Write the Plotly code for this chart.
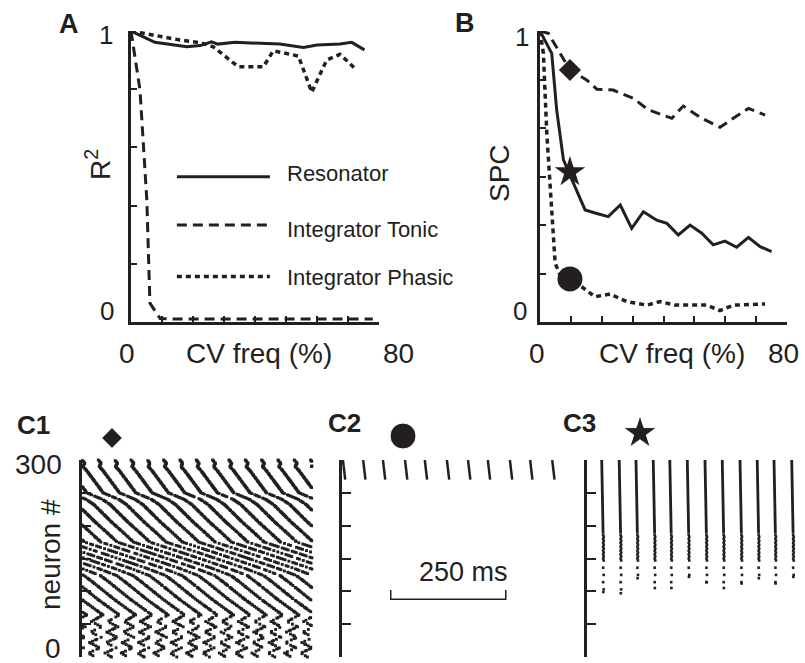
import numpy as np
import plotly.graph_objects as go

W, H = 805, 663
FONT = "Liberation Sans, Arial, Helvetica, sans-serif"

# ---------------- Panel A : R^2 vs CV freq ----------------
a_res_x = [0, 7.7, 18, 22.3, 26, 28, 33.5, 48, 55.6, 60, 67.4, 71.2, 75.3]
a_res_y = [1, 0.961, 0.946, 0.95, 0.963, 0.955, 0.961, 0.955, 0.943, 0.952, 0.955, 0.961, 0.935]
a_ton_x = [0, 2.9, 5.1, 6.1, 9.4, 15, 25, 35, 45, 55, 65, 78]
a_ton_y = [1, 0.797, 0.42, 0.065, 0.012, 0.01, 0.01, 0.01, 0.01, 0.01, 0.01, 0.01]
a_pha_x = [0, 5, 15.8, 22.3, 26.5, 34.6, 42.7, 45.9, 54, 58.3, 63.1, 67.4, 72.8]
a_pha_y = [1, 0.99, 0.969, 0.96, 0.946, 0.877, 0.877, 0.932, 0.914, 0.79, 0.90, 0.92, 0.866]

# ---------------- Panel B : SPC vs CV freq ----------------
b_ton_x = [0, 2.7, 9.7, 15.1, 18.4, 23.7, 30.2, 35.1, 42.7, 46.4, 52.4, 58.3, 62.6, 67.5, 72.9]
b_ton_y = [1, 0.992, 0.866, 0.832, 0.80, 0.797, 0.769, 0.729, 0.70, 0.742, 0.70, 0.669, 0.70, 0.734, 0.711]
b_res_x = [0, 3.8, 5.4, 7.6, 9.7, 14.6, 18.4, 22.1, 26, 29.7, 33.5, 37.8, 41.1, 44.8, 48.6,
           52.4, 56.1, 59.9, 63.7, 67.5, 71.3, 75]
b_res_y = [1, 0.923, 0.729, 0.557, 0.505, 0.385, 0.373, 0.362, 0.402, 0.322, 0.379, 0.35, 0.339,
           0.299, 0.333, 0.305, 0.265, 0.278, 0.257, 0.291, 0.259, 0.242]
b_pha_x = [0, 1.1, 2.2, 3.8, 4.9, 6.5, 9.7, 13.5, 17.8, 22.7, 28.1, 34.6, 38.9, 43.7, 54, 58.3, 62.6, 72.9]
b_pha_y = [1, 0.923, 0.648, 0.362, 0.202, 0.162, 0.147, 0.121, 0.087, 0.096, 0.07, 0.058, 0.07,
           0.058, 0.058, 0.039, 0.058, 0.062]
b_mark_x = 9.7
b_mark_y = {"diamond": 0.866, "star": 0.515, "circle": 0.148}

# legend keys drawn inside panel A
leg_labels = ["Resonator", "Integrator Tonic", "Integrator Phasic"]
leg_x = [14.8, 44.8]
leg_y = [0.499, 0.333, 0.156]

cv_ticks = [0, 10, 20, 30, 40, 50, 60, 70, 80]
r2_ticks = [0, 0.2, 0.4, 0.6, 0.8, 1.0]
spc_ticks = [0, 1/6, 2/6, 3/6, 4/6, 5/6, 1]
neuron_ticks = [0, 50, 100, 150, 200, 250, 300]

# ---------------- Panel C1 : raster (phase profile) ----------------
c1_period_ms = 35.5
c1_phase_neuron = [0, 6, 14, 22, 30, 38, 46, 54, 64, 88, 114, 124, 135, 155, 175, 190, 205, 232, 240, 250, 284, 290, 295, 300]
c1_phase_ms = [490, 476, 500, 478, 503, 480, 504, 482, 507, 460, 414, 395, 354, 270, 183, 160, 136, 97, 80, 46, 10, 2, 6, 0]
c1_drop_neuron = [0, 64, 65, 114, 115, 200, 201, 300]
c1_drop_pct = [50, 50, 35, 35, 30, 30, 15, 15]
c1_tmax = 500

# ---------------- Panel C2 ----------------
c2_spike_t = [2, 46, 89, 137, 180, 228, 274, 317, 365, 409, 457]
c2_top_n, c2_bot_n, c2_slant = 300, 270, 5
scalebar_t = [106, 356]
scalebar_n = [102, 88]

# ---------------- Panel C3 ----------------
c3_burst_t = [32, 70, 106.5, 144, 180, 218, 256.5, 294, 332.6, 370, 406.5, 445]
c3_line_bottom = 188
c3_tail_bottom = [99, 97, 120, 105, 105, 122, 114, 105, 112, 120, 112, 122]

# condition symbols placed above the rasters (figure pixel frame)
sym_names = ["diamond", "circle", "star"]
sym_px = [112, 403, 640]
sym_py = [438, 436, 433]
sym_size = [16, 26, 25]

fig = go.Figure()


def px2paper(px, py):
    return px / W, 1 - py / H


INK = "#231f20"
LINE_W = 3
DASH = "10px,6px"
DOT = "5px,4px"

# Panel A traces
fig.add_trace(go.Scatter(x=a_res_x, y=a_res_y, mode="lines", line=dict(color=INK, width=LINE_W),
                         xaxis="x", yaxis="y", cliponaxis=False))
fig.add_trace(go.Scatter(x=a_ton_x, y=a_ton_y, mode="lines", line=dict(color=INK, width=LINE_W, dash=DASH),
                         xaxis="x", yaxis="y", cliponaxis=False))
fig.add_trace(go.Scatter(x=a_pha_x, y=a_pha_y, mode="lines", line=dict(color=INK, width=LINE_W + 0.5, dash=DOT),
                         xaxis="x", yaxis="y", cliponaxis=False))
for dash, ly, w in zip(["solid", DASH, DOT], leg_y, [LINE_W, LINE_W, LINE_W + 0.5]):
    fig.add_trace(go.Scatter(x=leg_x, y=[ly, ly], mode="lines", line=dict(color=INK, width=w, dash=dash),
                             xaxis="x", yaxis="y", cliponaxis=False))

# Panel B traces
fig.add_trace(go.Scatter(x=b_ton_x, y=b_ton_y, mode="lines", line=dict(color=INK, width=LINE_W, dash=DASH),
                         xaxis="x2", yaxis="y2", cliponaxis=False))
fig.add_trace(go.Scatter(x=b_res_x, y=b_res_y, mode="lines", line=dict(color=INK, width=LINE_W),
                         xaxis="x2", yaxis="y2", cliponaxis=False))
fig.add_trace(go.Scatter(x=b_pha_x, y=b_pha_y, mode="lines", line=dict(color=INK, width=LINE_W + 0.5, dash=DOT),
                         xaxis="x2", yaxis="y2", cliponaxis=False))
for sym, size in [("diamond", 17), ("star", 23), ("circle", 25)]:
    fig.add_trace(go.Scatter(x=[b_mark_x], y=[b_mark_y[sym]], mode="markers",
                             marker=dict(symbol=sym, size=size, color=INK, opacity=1),
                             xaxis="x2", yaxis="y2", cliponaxis=False))

# Panel C1 raster
rx, ry = [], []
order = np.argsort(c1_phase_neuron)
pn = np.array(c1_phase_neuron)[order]
pm = np.array(c1_phase_ms)[order]
for n in range(0, 301):
    phi = float(np.interp(n, pn, pm)) % c1_period_ms
    drop = float(np.interp(n, c1_drop_neuron, c1_drop_pct))
    k = 0
    t = phi
    while t <= c1_tmax:
        if (n * 37 + k * 53 + (n // 3) * 11) % 100 >= drop:
            rx.append(t)
            ry.append(n)
        k += 1
        t += c1_period_ms
fig.add_trace(go.Scatter(x=rx, y=ry, mode="markers",
                         marker=dict(symbol="square", size=2.9, color=INK, opacity=1, line=dict(width=0)),
                         xaxis="x3", yaxis="y3", cliponaxis=False))

# Panel C2
sx, sy = [], []
for t in c2_spike_t:
    sx += [t, t + c2_slant, None]
    sy += [c2_top_n, c2_bot_n, None]
fig.add_trace(go.Scatter(x=sx, y=sy, mode="lines", line=dict(color=INK, width=2.5),
                         xaxis="x4", yaxis="y4", cliponaxis=False))
fig.add_trace(go.Scatter(x=[scalebar_t[0], scalebar_t[0], scalebar_t[1], scalebar_t[1]],
                         y=[scalebar_n[0], scalebar_n[1], scalebar_n[1], scalebar_n[0]],
                         mode="lines", line=dict(color=INK, width=1.5),
                         xaxis="x4", yaxis="y4", cliponaxis=False))

# Panel C3
lx, ly = [], []
dx, dy = [], []
for i, (t, tb) in enumerate(zip(c3_burst_t, c3_tail_bottom)):
    lx += [t, t + 3, None]
    ly += [300, c3_line_bottom, None]
    n = c3_line_bottom - 2
    step = 3
    j = 0
    while n >= tb:
        dx.append(t + 3.5 + (0.8 if j % 2 else -0.4))
        dy.append(n)
        n -= step
        if n < 150:
            step = 11
        j += 1
    dx.append(t + 3.5)
    dy.append(tb)
fig.add_trace(go.Scatter(x=lx, y=ly, mode="lines", line=dict(color=INK, width=2.8),
                         xaxis="x5", yaxis="y5", cliponaxis=False))
fig.add_trace(go.Scatter(x=dx, y=dy, mode="markers",
                         marker=dict(symbol="square", size=2.6, color=INK, opacity=1, line=dict(width=0)),
                         xaxis="x5", yaxis="y5", cliponaxis=False))

# condition symbols over C panels
fig.add_trace(go.Scatter(x=sym_px, y=sym_py, mode="markers",
                         marker=dict(symbol=sym_names, size=sym_size, color=INK, opacity=1),
                         xaxis="x6", yaxis="y6", cliponaxis=False))

# ---------------- axes ----------------
AX = INK


def xd(a, b):
    return [a / W, b / W]


def yd(top, bottom):
    return [1 - bottom / H, 1 - top / H]


common_x = dict(showgrid=False, zeroline=False, showline=True, linecolor=AX, linewidth=3,
                ticks="inside", ticklen=6, tickwidth=1.5, tickcolor=AX, showticklabels=False,
                range=[0, 80], tickvals=cv_ticks, fixedrange=True)
common_y = dict(showgrid=False, zeroline=False, showline=True, linecolor=AX, linewidth=3,
                ticks="inside", ticklen=6, tickwidth=1.5, tickcolor=AX, showticklabels=False,
                fixedrange=True)
hidden_x = dict(visible=False, showgrid=False, zeroline=False, fixedrange=True)
c_y = dict(showgrid=False, zeroline=False, showline=True, linecolor=AX, linewidth=3,
           ticks="inside", ticklen=9, tickwidth=2, tickcolor=AX, showticklabels=False,
           range=[0, 300], tickvals=neuron_ticks, fixedrange=True)

fig.update_layout(
    width=W, height=H, margin=dict(l=0, r=0, t=0, b=0),
    paper_bgcolor="white", plot_bgcolor="rgba(0,0,0,0)", showlegend=False,
    font=dict(family=FONT, color=AX),
    xaxis=dict(common_x, domain=xd(131, 379), anchor="y"),
    yaxis=dict(common_y, domain=yd(31, 322), anchor="x", range=[0, 1], tickvals=r2_ticks),
    xaxis2=dict(common_x, domain=xd(540, 787), anchor="y2"),
    yaxis2=dict(common_y, domain=yd(31, 322), anchor="x2", range=[0, 1], tickvals=spc_ticks),
    xaxis3=dict(hidden_x, domain=xd(82, 312), anchor="y3", range=[0, 500]),
    yaxis3=dict(c_y, domain=yd(460, 657), anchor="x3"),
    xaxis4=dict(hidden_x, domain=xd(342, 572), anchor="y4", range=[0, 500]),
    yaxis4=dict(c_y, domain=yd(460, 657), anchor="x4"),
    xaxis5=dict(hidden_x, domain=xd(587, 800), anchor="y5", range=[0, 463]),
    yaxis5=dict(c_y, domain=yd(460, 657), anchor="x5"),
    xaxis6=dict(hidden_x, domain=[0, 1], anchor="y6", range=[0, W]),
    yaxis6=dict(visible=False, showgrid=False, zeroline=False, fixedrange=True,
                domain=[0, 1], anchor="x6", range=[H, 0]),
)

annotations = []


def ann(text, px, py, size, bold=False, xanchor="center", angle=0):
    x, y = px2paper(px, py)
    if bold:
        text = "<b>" + text + "</b>"
    annotations.append(dict(text=text, x=x, y=y, xref="paper", yref="paper", showarrow=False,
                            xanchor=xanchor, yanchor="middle", textangle=angle,
                            font=dict(family=FONT, size=size, color=AX)))


ann("A", 69, 24, 27, bold=True)
ann("B", 465, 23, 27, bold=True)
ann("C1", 33, 425, 26, bold=True)
ann("C2", 344, 423, 26, bold=True)
ann("C3", 579, 423, 26, bold=True)

ann("1", 106, 35, 26)
ann("0", 107, 311, 26)
ann("R<sup>2</sup>", 98, 165, 28, angle=-90)
ann("0", 127, 353, 28)
ann("CV freq (%)", 259, 353, 28)
ann("80", 398, 353, 28)

ann("1", 522, 37, 26)
ann("0", 520, 311, 26)
ann("SPC", 500, 173, 28, angle=-90)
ann("0", 537, 353, 28)
ann("CV freq (%)", 672, 353, 28)
ann("80", 783, 353, 28)

for lab, py in zip(leg_labels, [174, 229, 277]):
    ann(lab, 285, py, 22, xanchor="left")

ann("300", 64, 465, 28, xanchor="right")
ann("0", 53, 648, 28)
ann("neuron #", 50, 555, 28, angle=-90)
ann("250 ms", 463, 572, 27)

fig.update_layout(annotations=annotations)
fig.write_html("out.html")
